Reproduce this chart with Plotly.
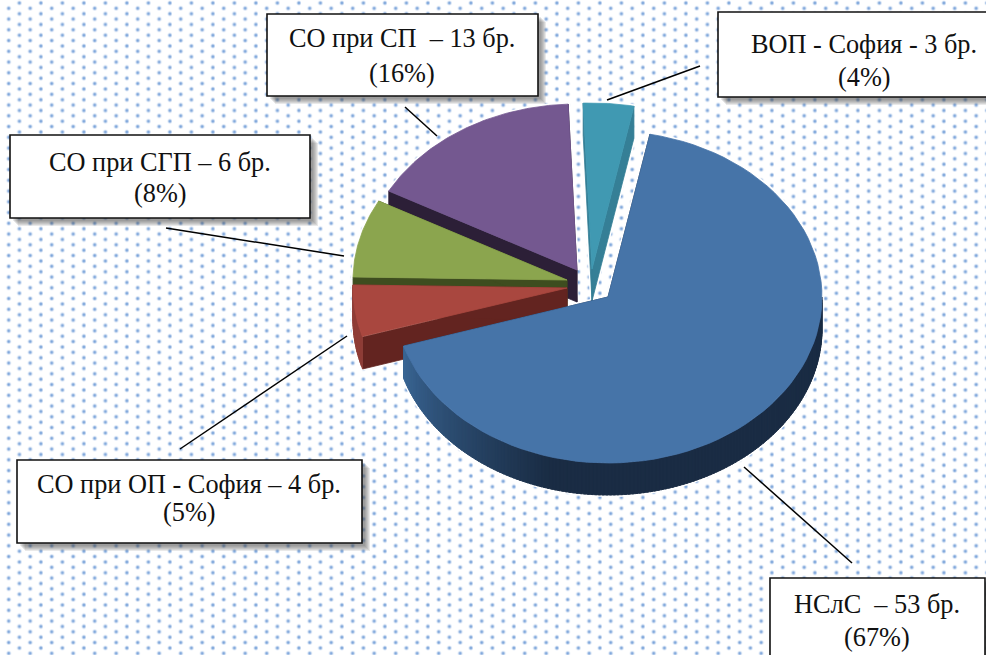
import base64
import numpy as np
import plotly.graph_objects as go

# Slices in clockwise order, starting from the big one
names = ['НСлС', 'СО при ОП - София', 'СО при СГП', 'СО при СП', 'ВОП - София']
counts = [53, 4, 6, 13, 3]
percents = ['(67%)', '(5%)', '(8%)', '(16%)', '(4%)']
line_one = ['НСлС \u00a0– 53 бр.', 'СО при ОП - София – 4 бр.', 'СО при СГП – 6 бр.',
            'СО при СП \u00a0– 13 бр.', 'ВОП - София - 3 бр.']

# Look of the slices
top_colors = ['#4674a8', '#a9473f', '#8ba54e', '#745890', '#4099b2']
face_colors = ['#1a2c44', '#632420', '#3e4d1f', '#2c1f37', '#357f96']
arc_colors = ['#1a2c44', '#8f3e37', '#3e4d1f', '#2c1f37', '#357f96']
apex_x = [608, 567, 567, 577, 592]
apex_y = [297, 288, 280, 270, 269]
RX, RY, DEPTH = 214, 166, 32
START_ANGLE = 11.3

# Callout boxes: x0, x1, y0, y1, text centre, first line y, second line y
boxes = [
    (770, 985, 578, 665, 877, 604, 637),
    (17, 362, 460, 543, 189, 484, 512),
    (10, 310, 135, 218, 160, 162, 193),
    (267, 538, 14, 96, 402, 38, 73),
    (718, 992, 12, 97, 864, 44, 77),
]
leaders = [
    (744, 467, 852, 563),
    (347, 336, 180, 449),
    (344, 256, 166, 228),
    (437, 136, 405, 107),
    (607, 100, 700, 66),
]

FONT = 'Liberation Serif, Times New Roman, serif'


def arc(cx, cy, a0, a1, n=80):
    a = np.radians(np.linspace(a0, a1, n))
    return cx + RX * np.sin(a), cy - RY * np.cos(a)


def poly(x, y, color, line=None, width=0):
    return go.Scatter(x=list(x), y=list(y), mode='lines', fill='toself', fillcolor=color,
                      line=dict(color=line or color, width=width if line else 0.8),
                      hoverinfo='skip', showlegend=False)


def mix(c1, c2, k):
    a = [int(c1[i:i + 2], 16) for i in (1, 3, 5)]
    b = [int(c2[i:i + 2], 16) for i in (1, 3, 5)]
    return 'rgb(%d,%d,%d)' % tuple(a[i] + (b[i] - a[i]) * k for i in range(3))


edges = START_ANGLE + np.concatenate([[0], np.cumsum(counts)]) * 360.0 / sum(counts)

fig = go.Figure()

# White halo behind the whole pie
for i in range(len(counts)):
    ax, ay = arc(apex_x[i], apex_y[i], edges[i], edges[i + 1])
    wx = np.concatenate([[apex_x[i]], ax, [apex_x[i]]])
    wy = np.concatenate([[apex_y[i]], ay, [apex_y[i]]])
    fig.add_trace(poly(wx, wy, 'white', 'white', 4))
    fig.add_trace(poly(wx, wy + DEPTH, 'white', 'white', 4))

# Back to front, so nearer slices cover the side walls of the others
for i in [4, 3, 2, 1, 0]:
    a0, a1 = edges[i], edges[i + 1]
    cx, cy = apex_x[i], apex_y[i]
    # flat walls along the two cuts
    for a in (a0, a1):
        ex, ey = arc(cx, cy, a, a, 1)
        fig.add_trace(poly([cx, ex[0], ex[0], cx, cx],
                           [cy, ey[0], ey[0] + DEPTH, cy + DEPTH, cy], face_colors[i]))
    # rim, split in strips so it can be shaded
    steps = np.arange(max(a0, 90), min(a1, 270), 1.0)
    for s in steps:
        rx, ry = arc(cx, cy, s, min(s + 1.6, a1), 2)
        k = np.clip((s - 195) / 57.0, 0, 1)
        color = mix(arc_colors[i], '#3a6694', k) if i == 0 else arc_colors[i]
        fig.add_trace(poly([rx[0], rx[1], rx[1], rx[0], rx[0]],
                           [ry[0], ry[1], ry[1] + DEPTH, ry[0] + DEPTH, ry[0]], color))
    # top
    ax, ay = arc(cx, cy, a0, a1)
    fig.add_trace(poly(np.concatenate([[cx], ax, [cx]]), np.concatenate([[cy], ay, [cy]]),
                       top_colors[i]))

shapes = []
annotations = []
for (x0, y0, x1, y1) in leaders:
    shapes.append(dict(type='line', x0=x0, y0=y0, x1=x1, y1=y1, line=dict(color='black', width=1.5)))
for i, (x0, x1, y0, y1, tc, ty1, ty2) in enumerate(boxes):
    for off in (8, 7, 6, 5, 4, 3):
        shapes.append(dict(type='rect', x0=x0 + off, x1=x1 + off, y0=y0 + off, y1=y1 + off,
                           fillcolor='rgba(70,70,70,0.12)', line=dict(width=0)))
    shapes.append(dict(type='rect', x0=x0, x1=x1, y0=y0, y1=y1, fillcolor='white',
                       line=dict(color='#111111', width=1.6)))
    for text, ty in ((line_one[i], ty1), (percents[i], ty2)):
        annotations.append(dict(x=tc, y=ty, text=text, showarrow=False, xanchor='center',
                                yanchor='middle', font=dict(family=FONT, size=26.3, color='#111111')))

# Dotted page background
tile = ('<svg xmlns="http://www.w3.org/2000/svg" width="986" height="655"><defs>'
        '<radialGradient id="d"><stop offset="0" stop-color="#6d9bd6"/><stop offset="0.3" stop-color="#8db0df"/>'
        '<stop offset="0.6" stop-color="#d6e3f4"/><stop offset="1" stop-color="#ffffff" stop-opacity="0"/></radialGradient>'
        '<pattern id="p" width="21.5" height="10.75" patternUnits="userSpaceOnUse">'
        '<circle cx="8.7" cy="8.3" r="3.2" fill="url(#d)"/><circle cx="19.4" cy="3" r="3.2" fill="url(#d)"/>'
        '</pattern></defs><rect width="986" height="655" fill="white"/>'
        '<rect width="986" height="655" fill="url(#p)"/></svg>')
source = 'data:image/svg+xml;base64,' + base64.b64encode(tile.encode()).decode()

fig.update_layout(
    width=986, height=655, margin=dict(l=0, r=0, t=0, b=0),
    paper_bgcolor='white', plot_bgcolor='rgba(0,0,0,0)', showlegend=False,
    xaxis=dict(range=[0, 986], visible=False, fixedrange=True),
    yaxis=dict(range=[655, 0], visible=False, fixedrange=True),
    shapes=shapes, annotations=annotations,
    images=[dict(source=source, xref='x', yref='y', x=0, y=0, sizex=986, sizey=655,
                 xanchor='left', yanchor='top', sizing='stretch', layer='below')],
)

fig.write_html('out.html', config={'displayModeBar': False},
               post_script="document.body.style.margin='0';")
